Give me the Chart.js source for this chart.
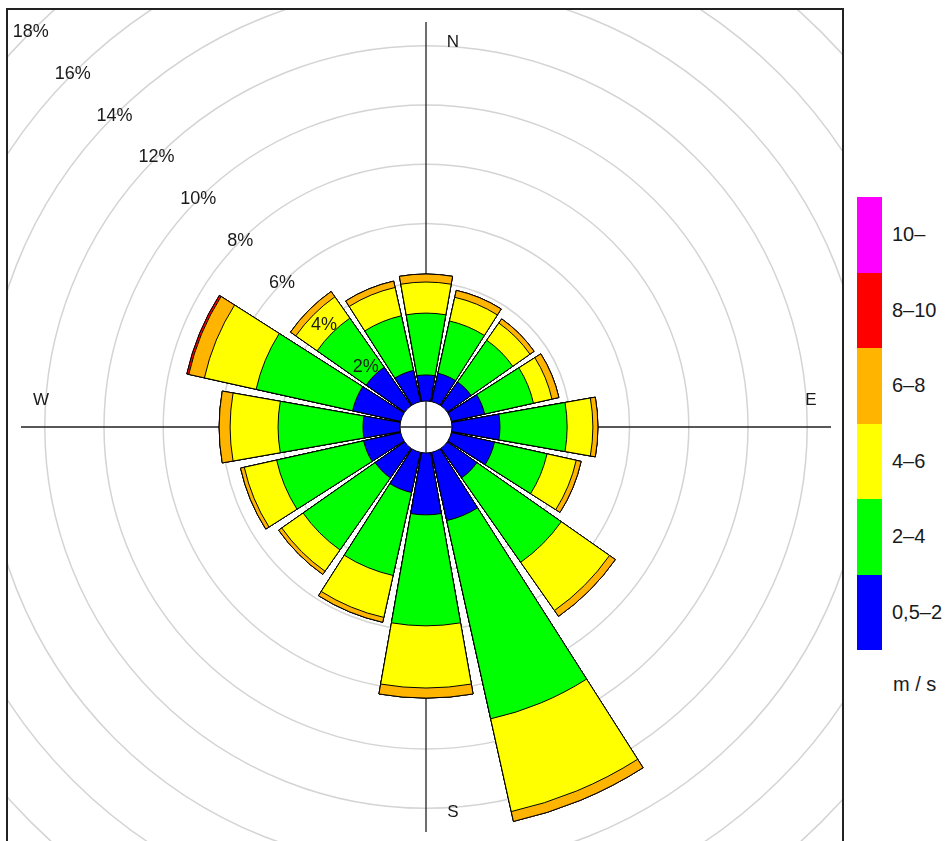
<!DOCTYPE html>
<html>
<head>
<meta charset="utf-8">
<script src="https://cdn.jsdelivr.net/npm/chart.js@4.4.1/dist/chart.umd.min.js"></script>
<style>
  body { margin: 0; background: #fff; font-family: "Liberation Sans", Arial, sans-serif; color: #1a1a1a; }
  #page { position: relative; width: 950px; height: 841px; overflow: hidden; }
  #panel { position: absolute; left: 6px; top: 8px; width: 838px; height: 870px; border: 2px solid #222; border-bottom: none; box-sizing: border-box; overflow: hidden; }
  #rose { position: absolute; left: -282px; top: -283px; width: 1400px; height: 1400px; }
  #key { position: absolute; left: 857px; top: 197px; width: 25px; }
  #key div { height: 75.5px; }
  .klab { position: absolute; left: 892px; font-size: 20px; line-height: 20px; }
</style>
</head>
<body>
<div id="page">
  <div id="panel">
    <div id="rose"><canvas id="roseChart"></canvas></div>
  </div>
  <div id="key"></div>
  <div id="keyLabels"></div>
  <div class="klab" style="top:674px; left:893px;">m / s</div>
</div>
<script>
// wind directions, clockwise from north
const directions = ["N", "NNE", "NE", "ENE", "E", "ESE", "SE", "SSE", "S", "SSW", "SW", "WSW", "W", "WNW", "NW", "NNW"];

// frequency (%) of each speed class per direction
const spd05to2 = [0.88, 0.98, 0.98, 1.15, 1.62, 1.49, 1.22, 2.36, 2.09, 1.39, 1.22, 1.28, 1.25, 1.66, 1.59, 1.08];
const spd2to4  = [2.09, 1.81, 1.72, 1.69, 2.27, 1.82, 3.48, 6.86, 3.75, 2.87, 2.97, 3.01, 2.87, 3.34, 2.02, 1.89];
const spd4to6  = [1.05, 0.82, 0.71, 0.64, 0.87, 1.01, 1.99, 3.21, 2.10, 1.45, 0.88, 1.12, 1.62, 1.79, 0.88, 0.98];
const spd6to8  = [0.27, 0.24, 0.17, 0.24, 0.17, 0.17, 0.24, 0.34, 0.34, 0.17, 0.13, 0.13, 0.37, 0.54, 0.22, 0.22];
const spd8to10 = [0, 0, 0, 0, 0, 0, 0, 0, 0, 0, 0, 0, 0, 0.07, 0, 0];
const spd10up  = [0, 0, 0, 0, 0, 0, 0, 0, 0, 0, 0, 0, 0, 0, 0, 0];

const speedLabels = ["0,5–2", "2–4", "4–6", "6–8", "8–10", "10–"];
const speedColors = ["#0000ff", "#00ff00", "#ffff00", "#ffb400", "#ff0000", "#ff00ff"];
const ringTicks = [0, 2, 4, 6, 8, 10, 12, 14, 16, 18, 20, 22];
const pctLabels = [2, 4, 6, 8, 10, 12, 14, 16, 18];

const WEDGE = 20;   // degrees of each bar
const GAP = 2.5;    // degrees between bars

// legend key
const key = document.getElementById("key");
const keyLabels = document.getElementById("keyLabels");
for (let i = speedColors.length - 1; i >= 0; i--) {
  const d = document.createElement("div");
  d.style.background = speedColors[i];
  key.appendChild(d);
  const l = document.createElement("div");
  l.className = "klab";
  l.textContent = speedLabels[i];
  l.style.top = (197 + (speedColors.length - 1 - i) * 75.5 + 27) + "px";
  keyLabels.appendChild(l);
}

// stacked -> cumulative, with an empty slot after each bar for the gap
const bins = [spd05to2, spd2to4, spd4to6, spd6to8, spd8to10, spd10up];
const running = directions.map(() => 0);
const datasets = bins.map((bin, b) => {
  const data = [];
  bin.forEach((v, i) => {
    running[i] += v;
    data.push(+running[i].toFixed(3));
    data.push(null);
  });
  return {
    label: speedLabels[b],
    data: data,
    backgroundColor: speedColors[b],
    borderColor: "#000",
    borderWidth: 1,
    angle: (c) => (c.dataIndex % 2 === 0 ? WEDGE : GAP),
  };
});
const labels = [];
directions.forEach((d) => { labels.push(d); labels.push(""); });

const roseDecor = {
  id: "roseDecor",
  beforeDatasetsDraw(chart) {
    const s = chart.scales.r;
    const ctx = chart.ctx;
    const R = 405;
    ctx.save();
    ctx.strokeStyle = "#222";
    ctx.lineWidth = 1.3;
    ctx.beginPath();
    ctx.moveTo(s.xCenter, s.yCenter - R);
    ctx.lineTo(s.xCenter, s.yCenter + R);
    ctx.moveTo(s.xCenter - R, s.yCenter);
    ctx.lineTo(s.xCenter + R, s.yCenter);
    ctx.stroke();
    ctx.restore();
  },
  afterDatasetsDraw(chart) {
    const s = chart.scales.r;
    const ctx = chart.ctx;
    const xc = s.xCenter, yc = s.yCenter;
    const r0 = s.getDistanceFromCenterForValue(0);
    ctx.save();
    // calm circle
    ctx.beginPath();
    ctx.arc(xc, yc, r0, 0, Math.PI * 2);
    ctx.fillStyle = "#fff";
    ctx.fill();
    ctx.strokeStyle = "#000";
    ctx.lineWidth = 1;
    ctx.stroke();
    ctx.strokeStyle = "#222";
    ctx.lineWidth = 1.3;
    ctx.beginPath();
    ctx.moveTo(xc, yc - r0); ctx.lineTo(xc, yc + r0);
    ctx.moveTo(xc - r0, yc); ctx.lineTo(xc + r0, yc);
    ctx.stroke();

    // percentage labels along the NW diagonal
    ctx.fillStyle = "#1a1a1a";
    ctx.font = '18px "Liberation Sans", Arial, sans-serif';
    ctx.textAlign = "center";
    ctx.textBaseline = "middle";
    pctLabels.forEach((v) => {
      const d = s.getDistanceFromCenterForValue(v) * Math.SQRT1_2;
      ctx.fillText(v + "%", xc - d, yc - d);
    });

    // compass labels
    ctx.font = '17px "Liberation Sans", Arial, sans-serif';
    const L = 385, o = 27;
    ctx.fillText("N", xc + o, yc - L);
    ctx.fillText("S", xc + o, yc + L);
    ctx.fillText("E", xc + L, yc - o);
    ctx.fillText("W", xc - L, yc - o);
    ctx.restore();
  },
};

new Chart(document.getElementById("roseChart"), {
  type: "polarArea",
  data: { labels: labels, datasets: datasets },
  options: {
    responsive: true,
    maintainAspectRatio: false,
    devicePixelRatio: 1,
    animation: false,
    events: [],
    layout: { padding: 0 },
    plugins: { legend: { display: false }, tooltip: { enabled: false } },
    scales: {
      r: {
        min: -0.878,
        max: 22.77,
        startAngle: 350,
        ticks: { display: false },
        pointLabels: { display: false },
        angleLines: { display: false },
        grid: { circular: true, color: "#d4d4d4", lineWidth: 1.5 },
        afterBuildTicks: (scale) => {
          scale.ticks = ringTicks.map((v) => ({ value: v }));
        },
      },
    },
  },
  plugins: [roseDecor],
});
</script>
</body>
</html>
